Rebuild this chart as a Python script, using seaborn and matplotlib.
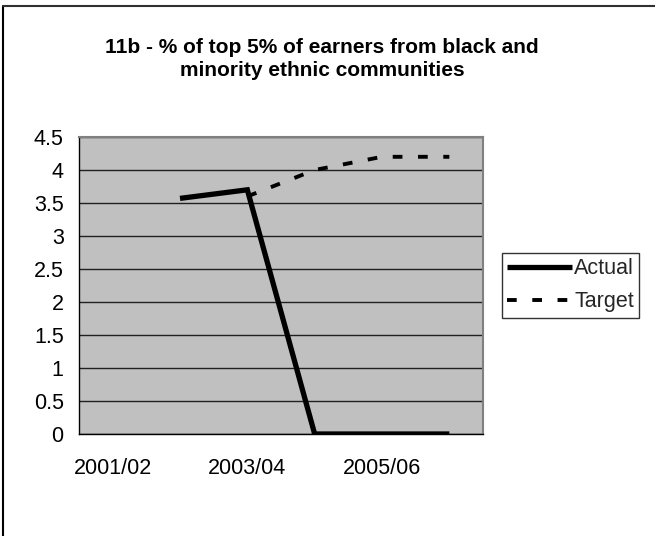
import numpy as np
import pandas as pd
import matplotlib
matplotlib.use("Agg")
import matplotlib.pyplot as plt
from matplotlib.lines import Line2D
import seaborn as sns

# Data
years = ["2001/02", "2002/03", "2003/04", "2004/05", "2005/06", "2006/07"]
actual = [np.nan, 3.57, 3.7, 0.0, 0.0, 0.0]
target = [np.nan, np.nan, 3.6, 4.0, 4.2, 4.2]
yticks = [0, 0.5, 1, 1.5, 2, 2.5, 3, 3.5, 4, 4.5]
title = "11b - % of top 5% of earners from black and\nminority ethnic communities"

sns.set_theme(style="white")
plt.rcParams["font.family"] = ["Liberation Sans", "DejaVu Sans"]

W, H = 655, 536
fig = plt.figure(figsize=(W / 100, H / 100), dpi=100)
fig.patch.set_facecolor("white")

# plot area in pixel coordinates
left, right, top, bottom = 79, 483, 137, 434
ax = fig.add_axes([left / W, 1 - bottom / H, (right - left) / W, (bottom - top) / H])
ax.set_facecolor("#C0C0C0")

pos = np.arange(len(years))
df = pd.DataFrame({"pos": pos, "Actual": actual, "Target": target})

TICK_FS = 15.5
TARGET_LW = 2.8
DASH = (2.5, 4.0)

sns.lineplot(data=df, x="pos", y="Actual", ax=ax, color="black", lw=3.8,
             solid_capstyle="butt", solid_joinstyle="miter", legend=False)
sns.lineplot(data=df, x="pos", y="Target", ax=ax, color="black", lw=TARGET_LW,
             dashes=False, legend=False)
ax.lines[-1].set_dashes(DASH)
ax.lines[-1].set_dash_capstyle("butt")

ax.set_xlim(-0.5, len(years) - 0.5)
ax.set_ylim(0, 4.5)
ax.set_yticks(yticks)
ax.set_yticklabels([f"{v:g}" for v in yticks])

# boundary ticks between categories, labels on every other category
ax.set_xticks(np.arange(-0.5, len(years), 1.0))
ax.set_xticklabels([])
ax.set_xticks(pos[::2], minor=True)
ax.set_xticklabels(years[::2], minor=True)
ax.tick_params(axis="x", which="major", direction="out", length=5, width=1, color="black")
ax.tick_params(axis="x", which="minor", length=0, pad=17, labelsize=TICK_FS, labelcolor="black")
ax.tick_params(axis="y", direction="out", length=5, width=1, color="black",
               pad=6, labelsize=TICK_FS, labelcolor="black")

ax.yaxis.grid(True, color="#202020", lw=1)
ax.xaxis.grid(False)
ax.set_axisbelow(True)
ax.set_xlabel("")
ax.set_ylabel("")

for s in ["left", "bottom"]:
    ax.spines[s].set_color("black")
    ax.spines[s].set_linewidth(1)
for s in ["top", "right"]:
    ax.spines[s].set_color("#808080")
    ax.spines[s].set_linewidth(1.5)

fig.text(322 / W, 1 - 59 / H, title, ha="center", va="center",
         fontsize=15, fontweight="bold", color="black", linespacing=1.25)

handles = [
    Line2D([], [], color="black", lw=3.8, solid_capstyle="butt"),
    Line2D([], [], color="black", lw=TARGET_LW, dashes=DASH, dash_capstyle="butt"),
]
leg = fig.legend(handles, ["Actual", "Target"], loc="upper left",
                 bbox_to_anchor=(502 / W, 1 - 253 / H), frameon=True, fancybox=False,
                 fontsize=TICK_FS, handlelength=3.0, handletextpad=0.1,
                 borderpad=0.25, labelspacing=0.55, borderaxespad=0)
leg.get_frame().set_edgecolor("black")
leg.get_frame().set_linewidth(1)

# outer chart border (left and top edges)
fig.add_artist(Line2D([3 / W, 3 / W], [0, 1 - 6 / H], transform=fig.transFigure,
                      color="black", lw=1.5))
fig.add_artist(Line2D([3 / W, 1], [1 - 6 / H, 1 - 6 / H], transform=fig.transFigure,
                      color="#303030", lw=1.5))

fig.savefig("out.png", dpi=100)
